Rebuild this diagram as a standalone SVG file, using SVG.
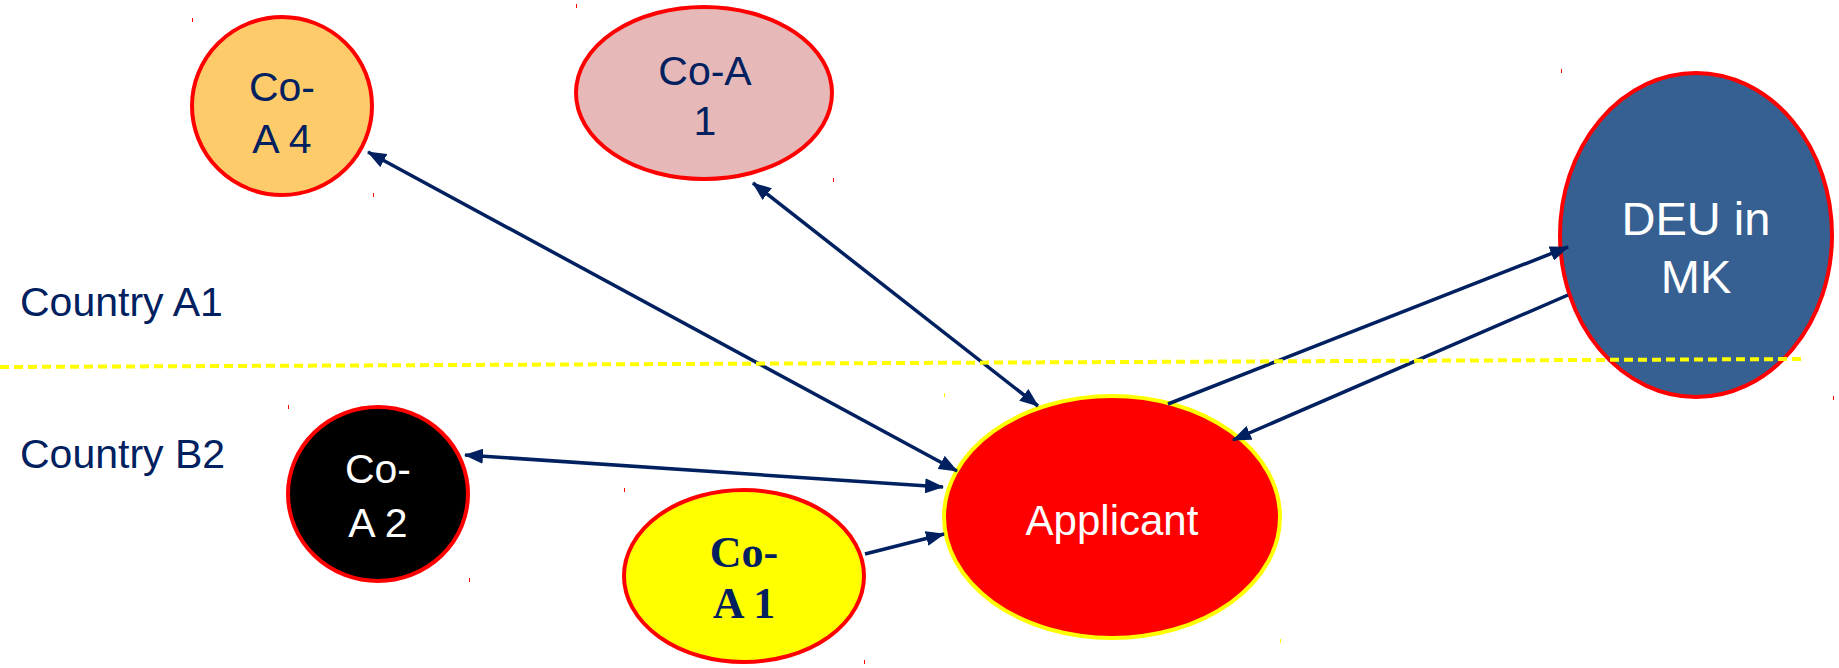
<svg xmlns="http://www.w3.org/2000/svg" width="1839" height="668" viewBox="0 0 1839 668">
  <style>
    .lbl { font-family: "Liberation Sans", Arial, sans-serif; text-anchor: middle; }
    .navy { fill: #002060; }
    .white { fill: #FFFFFF; }
    .conn { stroke: #002060; stroke-width: 3.5; fill: none; }
    .tick { fill: #FF0000; }
    .serif { font-family: "Liberation Serif", "DejaVu Serif", serif; font-weight: bold; text-anchor: middle; }
  </style>
  <defs>
    <marker id="ah" markerUnits="userSpaceOnUse" markerWidth="19" markerHeight="15" refX="18" refY="7.5" orient="auto-start-reverse" viewBox="0 0 19 15">
      <path d="M0,0 L19,7.5 L0,15 z" fill="#002060"/>
    </marker>
  </defs>
  <rect width="1839" height="668" fill="#FFFFFF"/>

  <g id="co-a4">
    <ellipse cx="282" cy="106" rx="90" ry="89" fill="#FECB6A" stroke="#FF0000" stroke-width="4"/>
    <text class="lbl navy" x="282" y="101" font-size="41">Co-</text>
    <text class="lbl navy" x="282" y="153" font-size="41">A 4</text>
  </g>

  <g id="co-a1-top">
    <ellipse cx="704" cy="93" rx="128" ry="86" fill="#E6B8B7" stroke="#FF0000" stroke-width="4"/>
    <text class="lbl navy" x="705" y="85" font-size="41">Co-A</text>
    <text class="lbl navy" x="705" y="135" font-size="41">1</text>
  </g>

  <g id="deu">
    <ellipse cx="1696" cy="235" rx="136" ry="162" fill="#376092" stroke="#FF0000" stroke-width="4"/>
    <text class="lbl white" x="1696" y="235" font-size="47">DEU in</text>
    <text class="lbl white" x="1696" y="293" font-size="47">MK</text>
  </g>

  <g id="co-a2">
    <ellipse cx="378" cy="494" rx="90" ry="87" fill="#000000" stroke="#FF0000" stroke-width="4"/>
    <text class="lbl white" x="378" y="483" font-size="41">Co-</text>
    <text class="lbl white" x="378" y="537" font-size="41">A 2</text>
  </g>

  <g id="co-a1-bottom">
    <ellipse cx="744" cy="576" rx="120" ry="86" fill="#FFFF00" stroke="#FF0000" stroke-width="4"/>
    <text class="serif navy" x="744" y="567" font-size="44">Co-</text>
    <text class="serif navy" x="744" y="618" font-size="44">A 1</text>
  </g>

  <g id="applicant">
    <ellipse cx="1112" cy="517" rx="168" ry="121" fill="#FF0000" stroke="#FFFF00" stroke-width="4"/>
    <text class="lbl white" x="1112" y="535" font-size="42">Applicant</text>
  </g>

  <g id="regions">
    <text x="20" y="316" font-size="41" font-family="'Liberation Sans', Arial, sans-serif" class="navy">Country A1</text>
    <text x="20" y="468" font-size="41" font-family="'Liberation Sans', Arial, sans-serif" class="navy">Country B2</text>
  </g>

  <g id="connectors">
    <line class="conn" x1="368" y1="152" x2="957" y2="471" marker-start="url(#ah)" marker-end="url(#ah)"/>
    <line class="conn" x1="753" y1="183" x2="1038" y2="406" marker-start="url(#ah)" marker-end="url(#ah)"/>
    <line class="conn" x1="465" y1="455" x2="943" y2="487" marker-start="url(#ah)" marker-end="url(#ah)"/>
    <line class="conn" x1="865" y1="554" x2="944" y2="534" marker-end="url(#ah)"/>
    <line class="conn" x1="1168" y1="404" x2="1568" y2="247" marker-end="url(#ah)"/>
    <line class="conn" x1="1568" y1="295" x2="1233" y2="440" marker-end="url(#ah)"/>
  </g>

  <g id="divider">
    <line x1="0" y1="367" x2="1803" y2="359" stroke="#FFFF00" stroke-width="4" stroke-dasharray="9,5"/>
  </g>

  <g id="handles">
    <rect class="tick" x="192" y="18" width="1" height="4"/>
    <rect class="tick" x="373" y="193" width="1" height="4"/>
    <rect class="tick" x="576" y="4" width="1" height="4"/>
    <rect class="tick" x="833" y="178" width="1" height="4"/>
    <rect class="tick" x="1561" y="69" width="1" height="4"/>
    <rect class="tick" x="1833" y="396" width="1" height="4"/>
    <rect class="tick" x="288" y="405" width="1" height="4"/>
    <rect class="tick" x="469" y="578" width="1" height="4"/>
    <rect class="tick" x="624" y="488" width="1" height="4"/>
    <rect class="tick" x="864" y="660" width="1" height="4"/>
    <rect x="944" y="393" width="1" height="4" fill="#FFFF00"/>
    <rect x="1280" y="639" width="1" height="4" fill="#FFFF00"/>
  </g>
</svg>
